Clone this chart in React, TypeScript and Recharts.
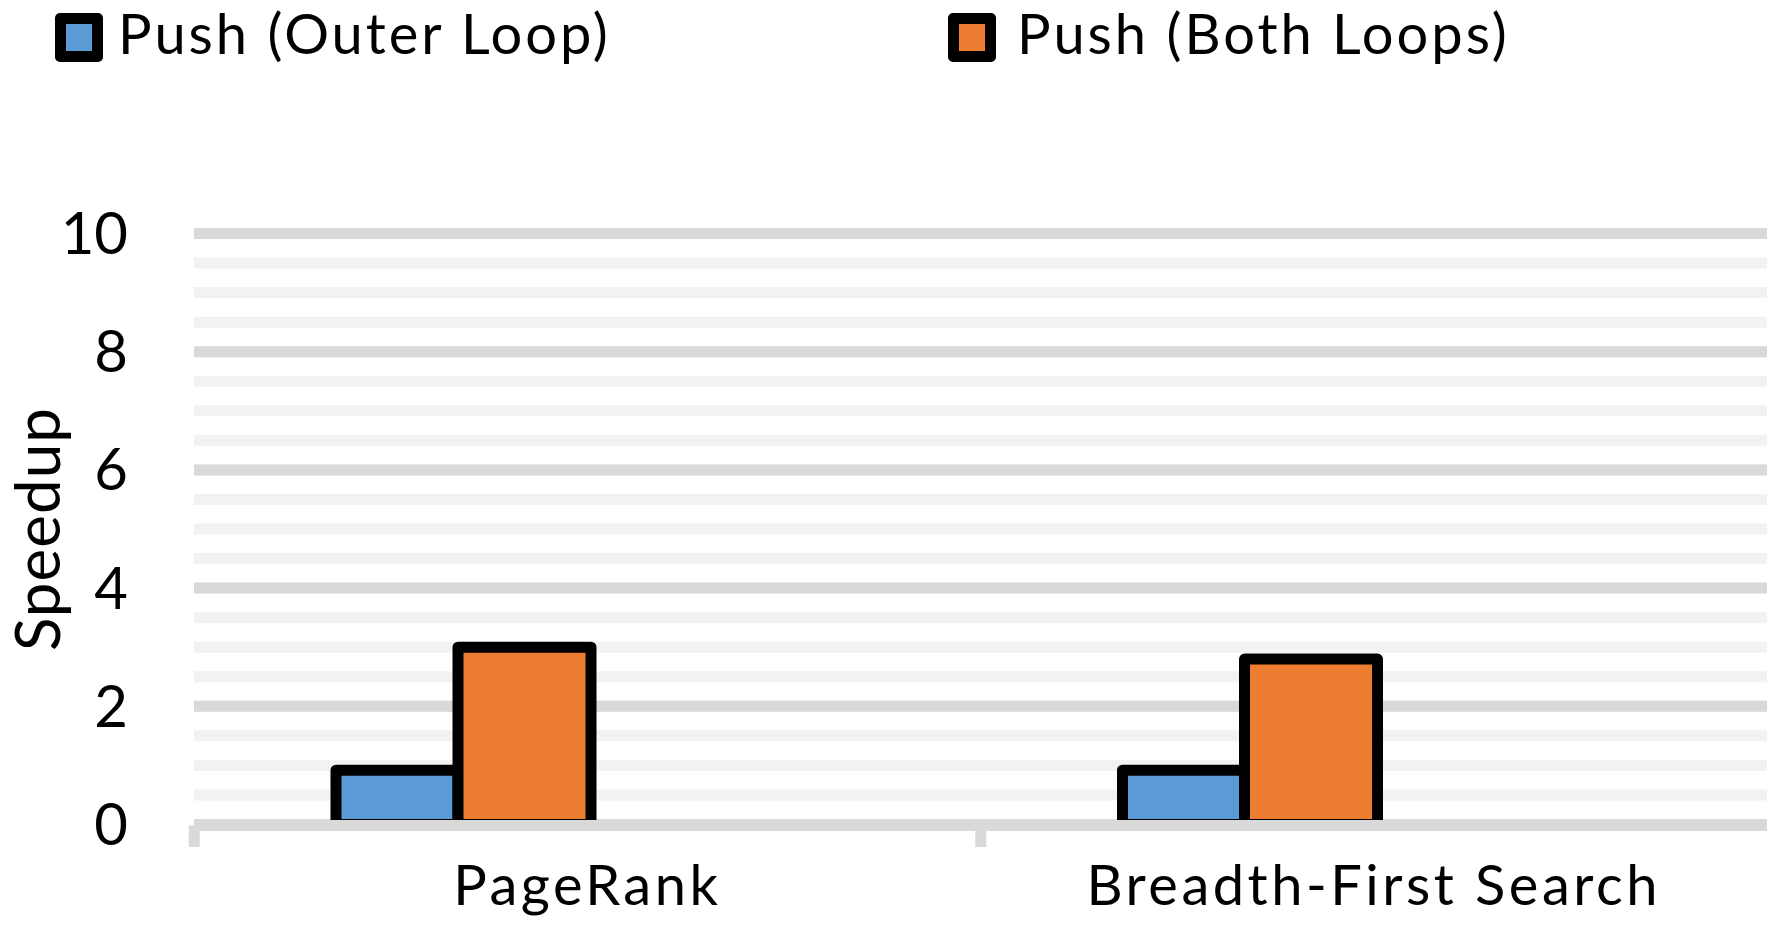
import { Bar, BarChart, CartesianGrid, Label, Legend, XAxis, YAxis } from "recharts";

const FONT = "Lato, 'Liberation Sans', sans-serif";

const categories = ["PageRank", "Breadth-First Search"];
const seriesNames = ["Push (Outer Loop)", "Push (Both Loops)"];
const pushOuterLoop = [0.92, 0.92];
const pushBothLoops = [3.0, 2.8];

const majorTicks = [0, 2, 4, 6, 8, 10];
const minorTicks = [0, 0.5, 1, 1.5, 2, 2.5, 3, 3.5, 4, 4.5, 5, 5.5, 6, 6.5, 7, 7.5, 8, 8.5, 9, 9.5, 10];

const data = categories.map((name, i) => ({
  name,
  outer: pushOuterLoop[i],
  both: pushBothLoops[i],
}));

const itemLeft = [55, 948];

function LegendContent({ payload }: any) {
  const items = [...(payload || [])].sort(
    (a: any, b: any) => seriesNames.indexOf(a.value) - seriesNames.indexOf(b.value)
  );
  return (
    <div style={{ position: "relative", width: 1770, height: 80 }}>
      {items.map((entry: any, i: number) => (
        <div
          key={entry.value}
          style={{
            position: "absolute",
            left: itemLeft[i],
            top: 0,
            display: "flex",
            alignItems: "flex-start",
          }}
        >
          <div
            style={{
              marginTop: 13,
              width: 26,
              height: 27,
              border: "11px solid #000",
              borderRadius: 5,
              background: entry.color,
            }}
          />
          <span
            style={{
              marginLeft: 15 + i * 6,
              marginTop: 5,
              fontSize: 56,
              lineHeight: "56px",
              letterSpacing: 3,
              color: "#000",
              whiteSpace: "nowrap",
            }}
          >
            {entry.value}
          </span>
        </div>
      ))}
    </div>
  );
}

// minor gridlines every 0.5, placed with the y axis scale
const minorLines = (props: any) => {
  const s = props?.yAxis?.scale;
  if (!s) return [];
  return minorTicks.map((v) => (typeof s === "function" ? s(v) : s.map(v)));
};

const NoLabel = () => <g />;

export default function App() {
  return (
    <div style={{ width: 1770, height: 948, fontFamily: FONT, position: "relative" }}>
      <style>{"body{margin:0}"}</style>
      <BarChart
        width={1770}
        height={948}
        data={data}
        margin={{ top: 153.5, right: 3, left: 0, bottom: 121.5 }}
        barGap={0}
      >
        <CartesianGrid
          yAxisId="main"
          xAxisId="cats"
          vertical={false}
          stroke="#f2f2f2"
          strokeWidth={11}
          horizontalCoordinatesGenerator={minorLines}
        />
        <CartesianGrid yAxisId="main" xAxisId="cats" vertical={false} stroke="#d9d9d9" strokeWidth={11} />
        <Legend
          verticalAlign="top"
          align="left"
          wrapperStyle={{ top: 0, left: 0, width: 1770, height: 80 }}
          content={LegendContent}
        />
        <YAxis
          yAxisId="main"
          type="number"
          domain={[0, 10]}
          ticks={majorTicks}
          interval={0}
          width={194}
          axisLine={false}
          tickLine={false}
          tickSize={0}
          tickMargin={66}
          tick={{ fontSize: 58, fill: "#000", fontFamily: FONT }}
        >
          <Label
            content={(props: any) => {
              const vb = props.viewBox || { x: 0, y: 233.5, width: 194, height: 591 };
              const cx = vb.x + 38;
              const cy = vb.y + vb.height / 2;
              return (
                <text
                  x={cx}
                  y={cy}
                  dy="0.355em"
                  textAnchor="middle"
                  transform={`rotate(-90, ${cx}, ${cy})`}
                  fontSize={62}
                  letterSpacing={1}
                  fill="#000"
                  fontFamily={FONT}
                >
                  Speedup
                </text>
              );
            }}
          />
        </YAxis>
        {/* category boundaries: same categories shifted by half a band */}
        <XAxis
          xAxisId="edges"
          dataKey="name"
          interval={0}
          height={1}
          padding={{ left: -393, right: 393 }}
          axisLine={{ stroke: "#d9d9d9", strokeWidth: 11 }}
          tickLine={{ stroke: "#d9d9d9", strokeWidth: 11 }}
          tickSize={21.5}
          tick={NoLabel}
        />
        <XAxis
          xAxisId="cats"
          dataKey="name"
          interval={0}
          height={1}
          axisLine={false}
          tickLine={false}
          tickSize={0}
          tickMargin={41.2}
          tick={{ fontSize: 56, fill: "#000", fontFamily: FONT, letterSpacing: 3.5 }}
        />
        <XAxis xAxisId="bars" dataKey="name" hide height={0} padding={{ left: -124, right: 124 }} />
        <Bar
          xAxisId="bars"
          yAxisId="main"
          dataKey="outer"
          name={seriesNames[0]}
          fill="#5b9bd5"
          stroke="#000"
          strokeWidth={11}
          strokeLinejoin="round"
          barSize={122}
          isAnimationActive={false}
        />
        <Bar
          xAxisId="bars"
          yAxisId="main"
          dataKey="both"
          name={seriesNames[1]}
          fill="#ed7d31"
          stroke="#000"
          strokeWidth={11}
          strokeLinejoin="round"
          barSize={133}
          isAnimationActive={false}
        />
      </BarChart>
    </div>
  );
}
